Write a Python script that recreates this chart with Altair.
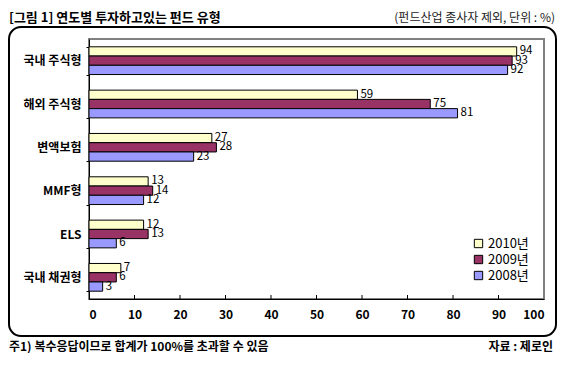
import altair as alt
import pandas as pd

categories = ["국내 주식형", "해외 주식형", "변액보험", "MMF형", "ELS", "국내 채권형"]
years = ["2010년", "2009년", "2008년"]
v2010 = [94, 59, 27, 13, 12, 7]
v2009 = [93, 75, 28, 14, 13, 6]
v2008 = [92, 81, 23, 12, 6, 3]
colors = ["#FFFFCC", "#993366", "#9999FF"]
x_ticks = [0, 10, 20, 30, 40, 50, 60, 70, 80, 90, 100]

rows = []
for i, c in enumerate(categories):
    for y, vals in zip(years, [v2010, v2009, v2008]):
        rows.append({"cat": c, "year": y, "val": vals[i]})
df = pd.DataFrame(rows)

FONT = "Noto Sans CJK KR"
W, H = 455, 260

xs = alt.Scale(domain=[0, 100], nice=False, zero=True)
ys = alt.Scale(domain=categories, paddingInner=0.36, paddingOuter=0.18)
yo = alt.Scale(domain=years, paddingInner=0, paddingOuter=0)

base = alt.Chart(df).encode(
    x=alt.X("val:Q", scale=xs,
            axis=alt.Axis(values=x_ticks, title=None, grid=False, ticks=False,
                          domainColor="#000", labelFontWeight="bold", labelFontSize=12,
                          labelPadding=10, labelColor="#000", labelFont=FONT)),
    y=alt.Y("cat:N", scale=ys, sort=categories,
            axis=alt.Axis(title=None, tickBand="extent", tickSize=3, tickColor="#000",
                          domainColor="#000", labelFontWeight="bold", labelFontSize=12,
                          labelPadding=5, labelColor="#000", labelFont=FONT)),
    yOffset=alt.YOffset("year:N", scale=yo, sort=years),
)

bars = base.mark_bar(stroke="#000", strokeWidth=1).encode(
    color=alt.Color("year:N", scale=alt.Scale(domain=years, range=colors),
                    legend=alt.Legend(title=None, orient="none", legendX=383, legendY=198,
                                      symbolType="square", symbolSize=70,
                                      symbolStrokeColor="#000", symbolStrokeWidth=1,
                                      labelFontSize=13, labelFont=FONT, labelColor="#000",
                                      rowPadding=2, labelOffset=3))
)
labels = base.mark_text(align="left", baseline="middle", dx=3, fontSize=11.5,
                        font=FONT, color="#000").encode(text="val:Q")

tick_df = pd.DataFrame({"t": x_ticks[1:-1]})
ticks = alt.Chart(tick_df).mark_rule(color="#000", strokeWidth=1).encode(
    x=alt.X("t:Q", scale=xs), y=alt.value(H - 4), y2=alt.value(H))

one = pd.DataFrame({"a": [0]})
frame = alt.Chart(one).mark_rect(fill=None, stroke="#000", strokeWidth=2, cornerRadius=12).encode(
    x=alt.value(-80), x2=alt.value(467), y=alt.value(-12), y2=alt.value(297))

title = alt.Chart(one).mark_text(align="left", baseline="middle", fontSize=13, fontWeight="bold",
                                 font=FONT, color="#000").encode(
    x=alt.value(-80), y=alt.value(-21), text=alt.value("[그림 1] 연도별 투자하고있는 펀드 유형"))
unit = alt.Chart(one).mark_text(align="right", baseline="middle", fontSize=12,
                                font=FONT, color="#222").encode(
    x=alt.value(466), y=alt.value(-21), text=alt.value("(펀드산업 종사자 제외, 단위 : %)"))
note = alt.Chart(one).mark_text(align="left", baseline="middle", fontSize=12, fontWeight="bold",
                                font=FONT, color="#000").encode(
    x=alt.value(-80), y=alt.value(308), text=alt.value("주1) 복수응답이므로 합계가 100%를 초과할 수 있음"))
src = alt.Chart(one).mark_text(align="right", baseline="middle", fontSize=12, fontWeight="bold",
                               font=FONT, color="#000").encode(
    x=alt.value(464), y=alt.value(308), text=alt.value("자료 : 제로인"))

chart = alt.layer(bars, labels, ticks, frame, title, unit, note, src).properties(
    width=W, height=H,
    autosize=alt.AutoSizeParams(type="none"),
    padding={"left": 81, "top": 31, "right": 14, "bottom": 54},
    background="#ffffff",
).configure_view(stroke="#808080", strokeWidth=2)

chart.save("out.html", embed_options={"renderer": "svg", "actions": False})
